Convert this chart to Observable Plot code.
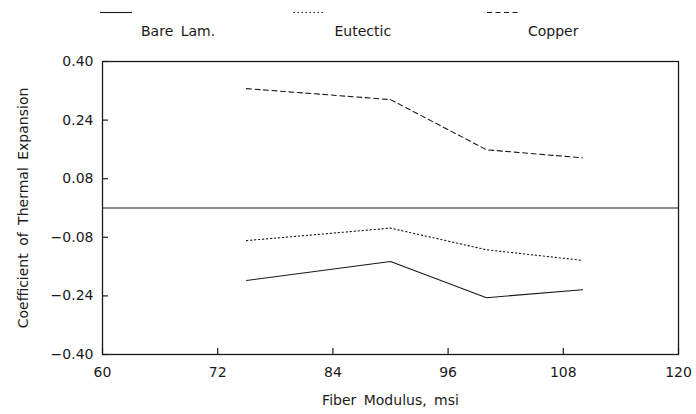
<!DOCTYPE html>
<html>
<head>
<meta charset="utf-8">
<script src="https://cdn.jsdelivr.net/npm/d3@7"></script>
<script src="https://cdn.jsdelivr.net/npm/@observablehq/plot@0.6"></script>
<style>
  html, body { margin: 0; padding: 0; background: #fff; }
  #chart { width: 696px; }
  svg { display: block; }
</style>
</head>
<body>
<div id="chart"></div>
<script>
// ---- data ----
const modulus = [75, 90, 100, 110];
const bareLam = [-0.198, -0.146, -0.245, -0.223];
const eutectic = [-0.089, -0.055, -0.114, -0.143];
const copper = [0.326, 0.296, 0.159, 0.137];
const seriesNames = ["Bare Lam.", "Eutectic", "Copper"];
const xTicks = [60, 72, 84, 96, 108, 120];
const yTicks = [-0.40, -0.24, -0.08, 0.08, 0.24, 0.40];

// ---- build table ----
const seriesValues = [bareLam, eutectic, copper];
const dashes = ["none", "1.4,2.6", "5,3.5"];
const rows = [];
seriesNames.forEach((name, i) => {
  modulus.forEach((m, j) => rows.push({series: name, x: m, y: seriesValues[i][j]}));
});

const FONT = "'DejaVu Sans', sans-serif";
const INK = "#1a1a1a";

// ---- legend (above the plot) ----
const legendH = 45;
const legend = d3.create("svg")
  .attr("width", 696).attr("height", legendH)
  .attr("font-family", FONT).attr("font-size", 14);
seriesNames.forEach((name, i) => {
  const x0 = 100 + i * 193.5;
  legend.append("line")
    .attr("x1", x0).attr("x2", x0 + 32).attr("y1", 12.5).attr("y2", 12.5)
    .attr("stroke", INK).attr("stroke-width", 1.1)
    .attr("stroke-dasharray", dashes[i]);
  legend.append("text")
    .attr("x", x0 + 41).attr("y", 36)
    .attr("fill", INK).style("word-spacing", "3px")
    .text(name);
});
document.getElementById("chart").appendChild(legend.node());

// ---- plot ----
const W = 696, H = 369, mT = 16, mB = 60, mL = 102, mR = 18;
const plotW = W - mL - mR, plotH = H - mT - mB;

const plot = Plot.plot({
  width: W, height: H,
  marginTop: mT, marginBottom: mB, marginLeft: mL, marginRight: mR,
  style: {fontFamily: FONT, fontSize: "14px", color: INK, background: "#fff", wordSpacing: "3px"},
  x: {domain: [60, 120]},
  y: {domain: [-0.40, 0.40]},
  marks: [
    Plot.frame({stroke: INK, strokeWidth: 1.3}),
    Plot.ruleY([0], {stroke: INK, strokeWidth: 1.1}),
    Plot.tickX(xTicks, {x: d => d, stroke: INK, strokeWidth: 1.2, insetTop: plotH - 6}),
    Plot.tickY(yTicks, {y: d => d, stroke: INK, strokeWidth: 1.2, insetRight: plotW - 6}),
    Plot.axisX({ticks: xTicks, tickSize: 0, tickPadding: 13, tickFormat: d3.format("d"),
      label: "Fiber Modulus, msi", labelAnchor: "center", labelOffset: 50, labelArrow: "none"}),
    Plot.axisY({ticks: yTicks, tickSize: 0, tickPadding: 9, tickFormat: d3.format(".2f"),
      label: "Coefficient of Thermal Expansion", labelAnchor: "center", labelOffset: 84, labelArrow: "none"}),
    ...seriesNames.map((name, i) =>
      Plot.line(rows.filter(r => r.series === name), {
        x: "x", y: "y", stroke: INK, strokeWidth: 1.1,
        strokeDasharray: dashes[i] === "none" ? null : dashes[i]
      })
    )
  ]
});
document.getElementById("chart").appendChild(plot);
</script>
</body>
</html>
